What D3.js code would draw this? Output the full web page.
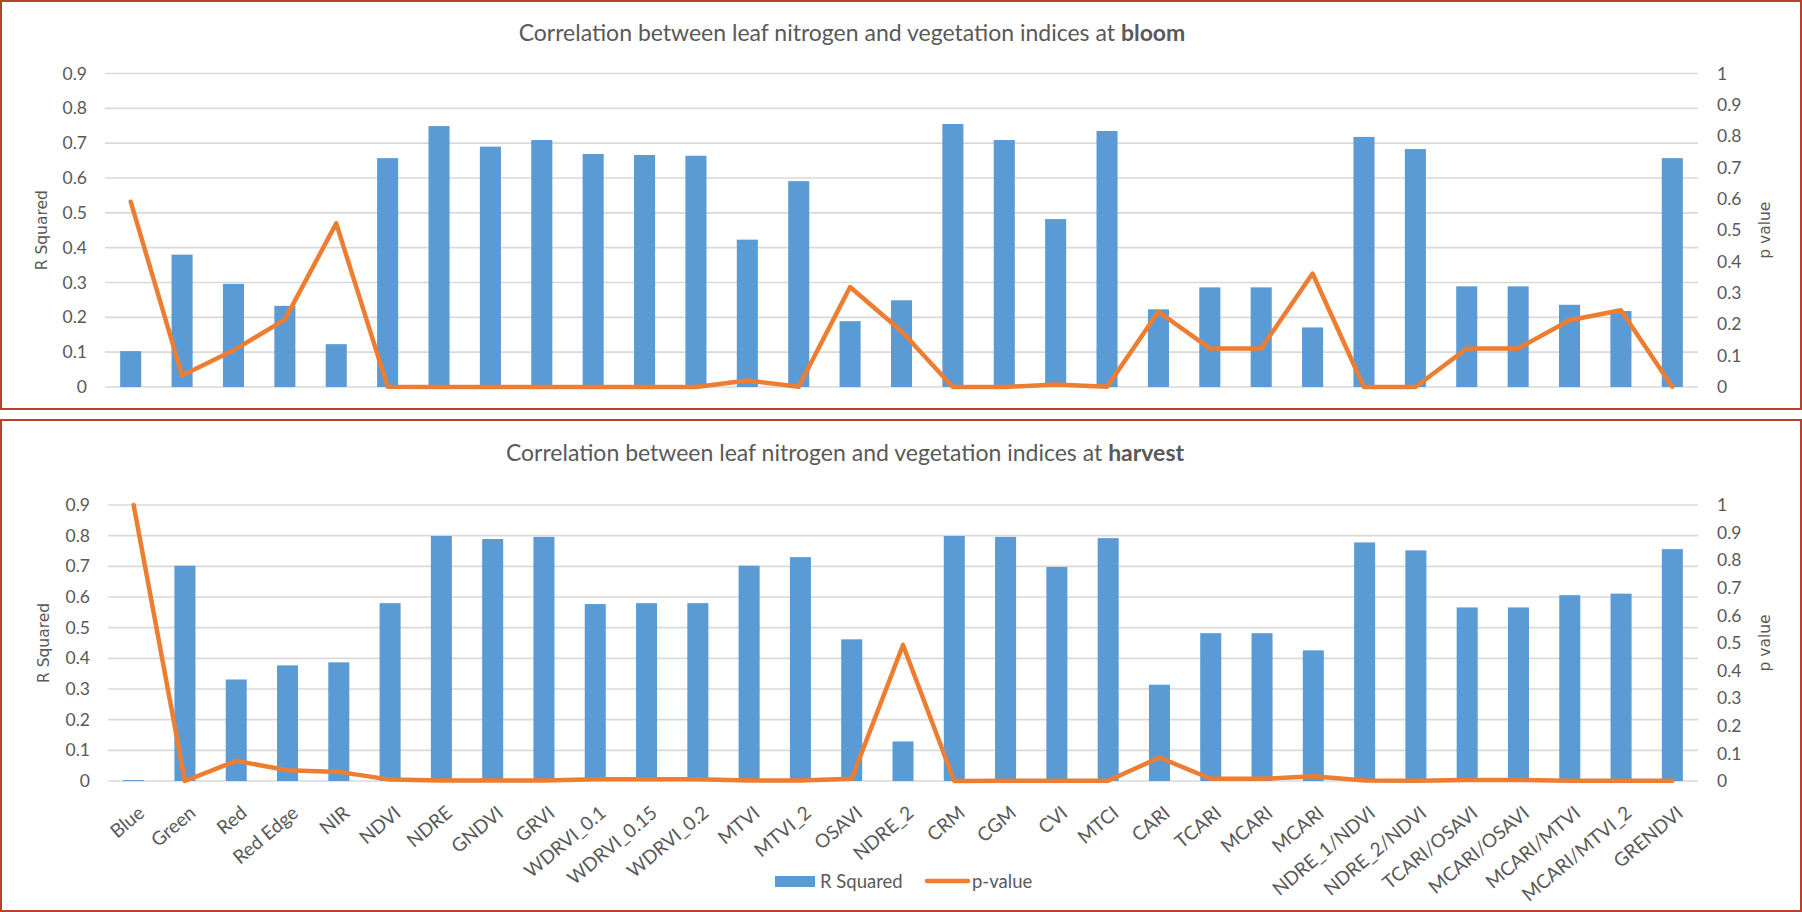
<!DOCTYPE html>
<html>
<head>
<meta charset="utf-8">
<script src="https://cdn.jsdelivr.net/npm/d3@7/dist/d3.min.js"></script>
<style>
  html, body { margin: 0; padding: 0; background: #fff; }
  svg { display: block; }
  text { font-family: Lato, "Open Sans", sans-serif; fill: #595959; }
</style>
</head>
<body>
<svg id="chart" width="1802" height="912"></svg>
<script>
// ---------------- DATA ----------------
const categories = ["Blue","Green","Red","Red Edge","NIR","NDVI","NDRE","GNDVI","GRVI",
  "WDRVI_0.1","WDRVI_0.15","WDRVI_0.2","MTVI","MTVI_2","OSAVI","NDRE_2","CRM","CGM","CVI",
  "MTCI","CARI","TCARI","MCARI","MCARI","NDRE_1/NDVI","NDRE_2/NDVI","TCARI/OSAVI",
  "MCARI/OSAVI","MCARI/MTVI","MCARI/MTVI_2","GRENDVI"];

const bloomRSquared = [0.103,0.380,0.296,0.233,0.123,0.657,0.749,0.690,0.709,
  0.669,0.666,0.664,0.423,0.591,0.189,0.249,0.755,0.709,0.482,
  0.735,0.223,0.286,0.286,0.171,0.718,0.683,0.289,
  0.289,0.236,0.218,0.657];
const bloomPValue = [0.591,0.037,0.117,0.215,0.522,0.001,0.000,0.000,0.000,
  0.000,0.000,0.000,0.021,0.001,0.319,0.178,0.000,0.000,0.008,
  0.001,0.240,0.123,0.123,0.362,0.000,0.000,0.123,
  0.123,0.213,0.245,0.001];

const harvestRSquared = [0.003,0.702,0.331,0.377,0.387,0.580,0.799,0.789,0.796,
  0.577,0.580,0.580,0.702,0.730,0.462,0.129,0.799,0.796,0.698,
  0.792,0.314,0.482,0.482,0.426,0.778,0.752,0.566,
  0.566,0.606,0.611,0.756];
const harvestPValue = [1.000,0.000,0.073,0.039,0.033,0.005,0.002,0.002,0.002,
  0.006,0.006,0.006,0.002,0.002,0.008,0.493,0.000,0.001,0.001,
  0.001,0.085,0.008,0.008,0.017,0.002,0.001,0.004,
  0.004,0.001,0.001,0.001];

const leftTicks = [0,0.1,0.2,0.3,0.4,0.5,0.6,0.7,0.8,0.9];
const rightTicks = [0,0.1,0.2,0.3,0.4,0.5,0.6,0.7,0.8,0.9,1];

const titles = [
  {normal: "Correlation between leaf nitrogen and vegetation indices at ", bold: "bloom"},
  {normal: "Correlation between leaf nitrogen and vegetation indices at ", bold: "harvest"}
];
const legendLabels = ["R Squared", "p-value"];
const leftAxisTitle = "R Squared";
const rightAxisTitle = "p value";

// ---------------- DRAW ----------------
const BAR = "#5B9BD5", LINE = "#ED7D31", GRID = "#D9D9D9", BORDER = "#B8432B";
const svg = d3.select("#chart");

function panel(cfg) {
  const g = svg.append("g");
  // border
  g.append("rect")
    .attr("x", cfg.box[0]).attr("y", cfg.box[1])
    .attr("width", cfg.box[2]).attr("height", cfg.box[3])
    .attr("fill", "none").attr("stroke", BORDER).attr("stroke-width", 2);

  const x = d3.scaleBand().domain(d3.range(categories.length))
    .range([cfg.x0, cfg.x1]).paddingInner(0).paddingOuter(0);
  const yL = d3.scaleLinear().domain([0, 0.9]).range([cfg.y0, cfg.y1]);
  const yR = d3.scaleLinear().domain([0, 1]).range([cfg.y0, cfg.y1]);

  // gridlines
  g.append("g").selectAll("line").data(leftTicks).join("line")
    .attr("x1", cfg.x0).attr("x2", cfg.x1)
    .attr("y1", d => yL(d)).attr("y2", d => yL(d))
    .attr("stroke", GRID).attr("stroke-width", 1.6);

  // left axis
  const axL = g.append("g").attr("transform", `translate(${cfg.x0},0)`)
    .call(d3.axisLeft(yL).tickValues(leftTicks).tickSize(0).tickPadding(18)
      .tickFormat(d => d === 0 ? "0" : d3.format(".1f")(d)));
  axL.select(".domain").remove();
  axL.selectAll("text").style("font-family", "Lato, sans-serif")
    .style("font-size", "17.5px").attr("fill", "#595959");

  // right axis
  const axR = g.append("g").attr("transform", `translate(${cfg.x1},0)`)
    .call(d3.axisRight(yR).tickValues(rightTicks).tickSize(0).tickPadding(19)
      .tickFormat(d => (d === 0 || d === 1) ? String(d) : d3.format(".1f")(d)));
  axR.select(".domain").remove();
  axR.selectAll("text").style("font-family", "Lato, sans-serif")
    .style("font-size", "17.5px").attr("fill", "#595959");

  // axis titles
  const yMid = (cfg.y0 + cfg.y1) / 2;
  g.append("text")
    .attr("transform", `translate(${cfg.leftTitleX},${yMid}) rotate(-90)`)
    .attr("text-anchor", "middle").attr("dominant-baseline", "central")
    .style("font-family", "'DejaVu Sans', sans-serif").style("font-size", "15.5px")
    .text(leftAxisTitle);
  g.append("text")
    .attr("transform", `translate(${cfg.rightTitleX},${yMid}) rotate(-90)`)
    .attr("text-anchor", "middle").attr("dominant-baseline", "central")
    .style("font-family", "'DejaVu Sans', sans-serif").style("font-size", "15.5px")
    .text(rightAxisTitle);

  // bars
  const bw = x.bandwidth() * 0.41;
  g.append("g").selectAll("rect").data(cfg.rsq).join("rect")
    .attr("x", (d, i) => x(i) + x.bandwidth() / 2 - bw / 2)
    .attr("width", bw)
    .attr("y", d => yL(d))
    .attr("height", d => yL(0) - yL(d))
    .attr("fill", BAR);

  // line
  const line = d3.line().x((d, i) => x(i) + x.bandwidth() / 2).y(d => yR(d));
  g.append("path").datum(cfg.pv)
    .attr("d", line).attr("fill", "none").attr("stroke", LINE)
    .attr("stroke-width", 4.5).attr("stroke-linejoin", "round").attr("stroke-linecap", "round");

  // title
  const t = g.append("text").attr("x", cfg.titleX).attr("y", cfg.titleY)
    .attr("text-anchor", "middle")
    .style("font-size", "23px");
  t.append("tspan").text(cfg.title.normal);
  t.append("tspan").style("font-weight", "bold").text(cfg.title.bold);

  return {g, x, yL};
}

panel({
  box: [1, 1, 1800, 408],
  x0: 105, x1: 1698, y0: 387, y1: 73.5,
  rsq: bloomRSquared, pv: bloomPValue,
  title: titles[0], titleX: 852, titleY: 41,
  leftTitleX: 42, rightTitleX: 1765
});

const bottom = panel({
  box: [1, 420, 1800, 491],
  x0: 108, x1: 1698, y0: 781, y1: 505,
  rsq: harvestRSquared, pv: harvestPValue,
  title: titles[1], titleX: 845, titleY: 461,
  leftTitleX: 44, rightTitleX: 1765
});

// x axis labels on bottom chart
const xAx = bottom.g.append("g").attr("transform", "translate(0,781)")
  .call(d3.axisBottom(bottom.x).tickSize(0).tickFormat(i => categories[i]));
xAx.select(".domain").remove();
xAx.selectAll("text")
  .style("font-family", "Lato, sans-serif").style("font-size", "19px").attr("fill", "#595959")
  .attr("text-anchor", "end")
  .attr("transform", "translate(12,34) rotate(-40)")
  .attr("x", 0).attr("y", 0).attr("dy", "0");

// legend
const lg = svg.append("g");
lg.append("rect").attr("x", 775).attr("y", 876).attr("width", 40).attr("height", 11).attr("fill", BAR);
lg.append("text").attr("x", 820).attr("y", 881).attr("dominant-baseline", "central")
  .style("font-size", "18.5px").text(legendLabels[0]);
lg.append("line").attr("x1", 927).attr("x2", 968).attr("y1", 881).attr("y2", 881)
  .attr("stroke", LINE).attr("stroke-width", 4.5).attr("stroke-linecap", "round");
lg.append("text").attr("x", 972).attr("y", 881).attr("dominant-baseline", "central")
  .style("font-size", "18.5px").text(legendLabels[1]);
</script>
</body>
</html>
